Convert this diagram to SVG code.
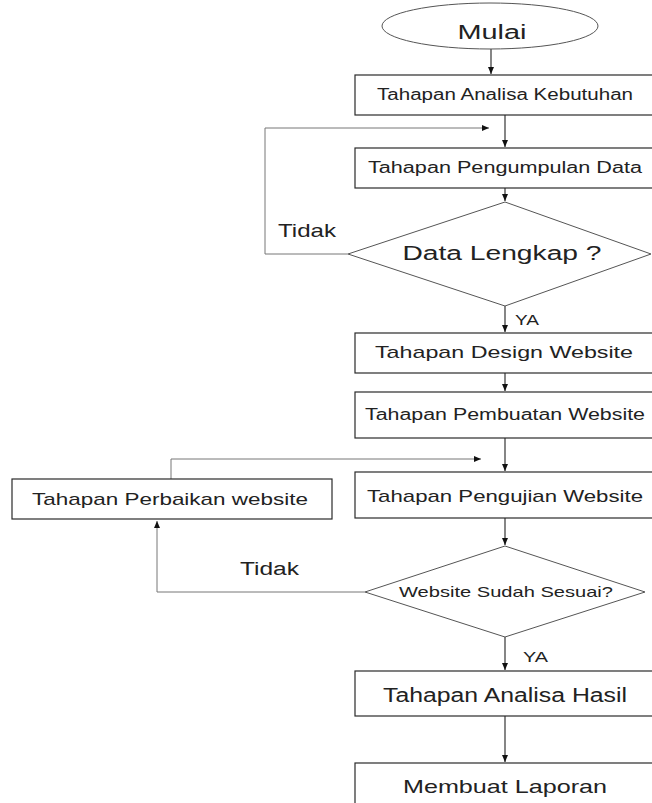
<svg xmlns="http://www.w3.org/2000/svg" width="652" height="803" viewBox="0 0 652 803">
<style>
.box{fill:#fff;stroke:#2a2a2a;stroke-width:1.2}
.dia{fill:#fff;stroke:#555;stroke-width:1}
.t{font-family:"Liberation Sans",Arial,sans-serif;fill:#222;text-anchor:middle}
.tl{font-family:"Liberation Sans",Arial,sans-serif;fill:#222}
.c{fill:none;stroke:#222;stroke-width:1.1}
.fb{fill:none;stroke:#777;stroke-width:1}
</style>
<defs>
<marker id="ah" markerUnits="userSpaceOnUse" markerWidth="8" markerHeight="8" viewBox="0 0 8 8" refX="7" refY="4" orient="auto">
<path d="M0,1 L7,4 L0,7 Z" fill="#111"/>
</marker>
</defs>
<rect width="652" height="803" fill="#fff"/>

<g id="connectors">
<path class="c" d="M491,49 V74" marker-end="url(#ah)"/>
<path class="c" d="M505,115 V147" marker-end="url(#ah)"/>
<path class="fb" d="M348,254 H265 V128 H489" marker-end="url(#ah)"/>
<path class="c" d="M505,188 V201" marker-end="url(#ah)"/>
<path class="c" d="M505,306 V332" marker-end="url(#ah)"/>
<path class="c" d="M505,373 V391" marker-end="url(#ah)"/>
<path class="c" d="M505,438 V471" marker-end="url(#ah)"/>
<path class="fb" d="M171,479 V459 H481" marker-end="url(#ah)"/>
<path class="c" d="M505,518 V545" marker-end="url(#ah)"/>
<path class="fb" d="M365,592 H157 V521" marker-end="url(#ah)"/>
<path class="c" d="M505,637 V670" marker-end="url(#ah)"/>
<path class="c" d="M505,716 V762" marker-end="url(#ah)"/>
</g>

<g id="mulai">
<ellipse cx="490" cy="26" rx="108" ry="23" fill="#fff" stroke="#555" stroke-width="1"/>
<text class="t" x="492" y="39" font-size="20" textLength="69" lengthAdjust="spacingAndGlyphs">Mulai</text>
</g>

<g id="analisa-kebutuhan">
<rect class="box" x="355" y="75" width="310" height="40"/>
<text class="t" x="505" y="100" font-size="16" textLength="256" lengthAdjust="spacingAndGlyphs">Tahapan Analisa Kebutuhan</text>
</g>

<g id="pengumpulan-data">
<rect class="box" x="355" y="148" width="310" height="40"/>
<text class="t" x="505" y="173" font-size="16" textLength="274" lengthAdjust="spacingAndGlyphs">Tahapan Pengumpulan Data</text>
</g>

<g id="data-lengkap">
<polygon class="dia" points="505,202 651,254 505,306 348,254"/>
<text class="t" x="502" y="260" font-size="20" textLength="199" lengthAdjust="spacingAndGlyphs">Data Lengkap ?</text>
</g>

<g id="labels1">
<text class="tl" x="278" y="237" font-size="19" textLength="58" lengthAdjust="spacingAndGlyphs">Tidak</text>
<text class="tl" x="515" y="325" font-size="14" textLength="24" lengthAdjust="spacingAndGlyphs">YA</text>
</g>

<g id="design-website">
<rect class="box" x="355" y="333" width="310" height="40"/>
<text class="t" x="504" y="358" font-size="17" textLength="258" lengthAdjust="spacingAndGlyphs">Tahapan Design Website</text>
</g>

<g id="pembuatan-website">
<rect class="box" x="355" y="392" width="310" height="46"/>
<text class="t" x="505" y="420" font-size="16" textLength="280" lengthAdjust="spacingAndGlyphs">Tahapan Pembuatan Website</text>
</g>

<g id="pengujian-website">
<rect class="box" x="355" y="472" width="310" height="46"/>
<text class="t" x="505" y="502" font-size="17" textLength="276" lengthAdjust="spacingAndGlyphs">Tahapan Pengujian Website</text>
</g>

<g id="perbaikan-website">
<rect class="box" x="12" y="479" width="320" height="40"/>
<text class="t" x="170" y="505" font-size="17" textLength="276" lengthAdjust="spacingAndGlyphs">Tahapan Perbaikan website</text>
</g>

<g id="website-sesuai">
<polygon class="dia" points="505,546 645,592 505,637 365,592"/>
<text class="t" x="506" y="597" font-size="15" textLength="214" lengthAdjust="spacingAndGlyphs">Website Sudah Sesuai?</text>
</g>

<g id="labels2">
<text class="tl" x="240" y="575" font-size="18" textLength="59" lengthAdjust="spacingAndGlyphs">Tidak</text>
<text class="tl" x="523" y="662" font-size="14" textLength="25" lengthAdjust="spacingAndGlyphs">YA</text>
</g>

<g id="analisa-hasil">
<rect class="box" x="355" y="671" width="310" height="45"/>
<text class="t" x="505" y="702" font-size="20" textLength="244" lengthAdjust="spacingAndGlyphs">Tahapan Analisa Hasil</text>
</g>

<g id="membuat-laporan">
<rect class="box" x="355" y="763" width="310" height="60"/>
<text class="t" x="505" y="793" font-size="19" textLength="204" lengthAdjust="spacingAndGlyphs">Membuat Laporan</text>
</g>
</svg>
